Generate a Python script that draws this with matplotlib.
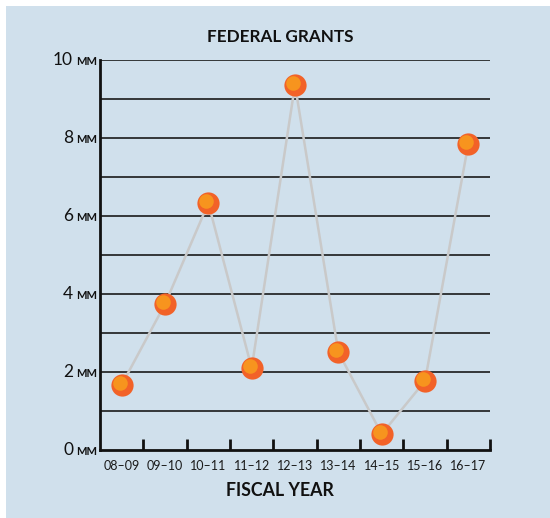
import matplotlib.pyplot as plt
import matplotlib.transforms as mtransforms

# fiscal years and federal grant amounts (millions)
years = ['08–09', '09–10', '10–11', '11–12', '12–13', '13–14', '14–15', '15–16', '16–17']
grants = [1.67, 3.74, 6.33, 2.10, 9.36, 2.51, 0.41, 1.77, 7.85]
ytick_vals = [0, 2, 4, 6, 8, 10]

bg = '#d0e0ec'
outer_col = '#f26228'
inner_col = '#f7941e'
plt.rcParams['font.family'] = ['Lato', 'DejaVu Sans']

fig = plt.figure(figsize=(5.5, 5.18), dpi=100)
fig.patch.set_facecolor('white')
fig.patches.append(plt.Rectangle((6 / 550, 0), 1, 1 - 6 / 518, transform=fig.transFigure,
                                 facecolor=bg, edgecolor='none', zorder=-10))

ax = fig.add_axes([100 / 550, 68 / 518, 390 / 550, 390 / 518])
ax.set_facecolor(bg)
ax.patch.set_alpha(0)

x = list(range(len(years)))
ax.set_xlim(-0.5, len(years) - 0.5)
ax.set_ylim(0, 10)

# grid lines every 1 MM
for g in range(1, 11):
    ax.axhline(g, color='#1a1a1a', lw=1.2, zorder=1)

for s in ['top', 'right']:
    ax.spines[s].set_visible(False)
ax.spines['left'].set_linewidth(2)
ax.spines['bottom'].set_linewidth(2)
ax.spines['left'].set_color('#111111')
ax.spines['bottom'].set_color('#111111')

# tick marks at category boundaries
ax.set_xticks([i + 0.5 for i in x], minor=False)
ax.set_xticklabels([])
ax.tick_params(axis='x', direction='in', length=8, width=2, color='#111111')
ax.set_yticks(ytick_vals)
ax.set_yticklabels([])
ax.tick_params(axis='y', length=0)

for i, lab in enumerate(years):
    ax.text(i, -0.4, lab, ha='center', va='center', fontsize=9, color='#1a1a1a')

ytr = mtransforms.blended_transform_factory(fig.transFigure, ax.transData)
for v in ytick_vals:
    ax.text(73 / 550, v, str(v), ha='right', va='center', fontsize=12.5, color='#111111',
            transform=ytr, clip_on=False)
    ax.text(76 / 550, v - 0.04, 'MM', ha='left', va='center', fontsize=8, color='#111111',
            fontweight='bold', transform=ytr, clip_on=False)

# series line and markers
ax.plot(x, grants, color='#c9c9c9', lw=1.8, zorder=2, clip_on=False)
ax.plot(x, grants, 'o', ms=16, color=outer_col, mec='none', zorder=3, clip_on=False)
inner = mtransforms.offset_copy(ax.transData, fig=fig, x=-2, y=2, units='dots')
ax.plot(x, grants, 'o', ms=10.5, color=inner_col, mec='none', zorder=4, clip_on=False,
        transform=inner)

fig.text(280 / 550, 1 - 37 / 518, 'FEDERAL GRANTS', ha='center', va='center',
         fontsize=12.3, fontweight='bold', color='#111111')
fig.text(280 / 550, 1 - 491 / 518, 'FISCAL YEAR', ha='center', va='center',
         fontsize=12.8, fontweight='bold', color='#111111')

fig.savefig('out.png', dpi=100, facecolor=fig.get_facecolor())
